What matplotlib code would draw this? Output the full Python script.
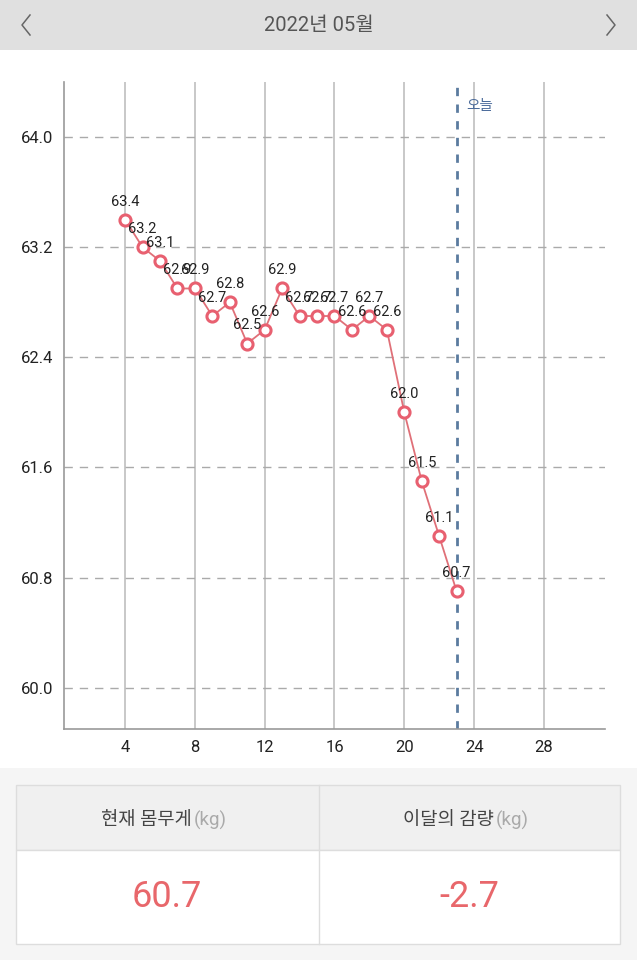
import matplotlib
matplotlib.use("Agg")
import matplotlib.pyplot as plt
from matplotlib.patches import Rectangle
from matplotlib.lines import Line2D

plt.rcParams['font.family'] = ['Roboto', 'Noto Sans CJK KR', 'DejaVu Sans']

# data
days = [4, 5, 6, 7, 8, 9, 10, 11, 12, 13, 14, 15, 16, 17, 18, 19, 20, 21, 22, 23]
weights = [63.4, 63.2, 63.1, 62.9, 62.9, 62.7, 62.8, 62.5, 62.6, 62.9,
           62.7, 62.7, 62.7, 62.6, 62.7, 62.6, 62.0, 61.5, 61.1, 60.7]
x_ticks = [4, 8, 12, 16, 20, 24, 28]
y_ticks = [60.0, 60.8, 61.6, 62.4, 63.2, 64.0]
today = 23
title = "2022년 05월"
current_label = "현재 몸무게"
change_label = "이달의 감량"
current_value = "60.7"
change_value = "-2.7"

W, H = 637, 960
fig = plt.figure(figsize=(W / 100, H / 100), dpi=100)


def fx(px):
    return px / W


def fy(py):
    return 1 - py / H


def rect(x0, y0, x1, y1, **kw):
    fig.patches.append(Rectangle((fx(x0), fy(y1)), fx(x1) - fx(x0), (y1 - y0) / H,
                                 transform=fig.transFigure, **kw))


# header bar
rect(0, 0, W, 50, facecolor='#e0e0e0', edgecolor='none')
fig.text(0.5, fy(25), title, ha='center', va='center', fontsize=14.5, color='#555555')
for cx, d in [(26, 1), (611, -1)]:
    fig.lines.append(Line2D([fx(cx + 4 * d), fx(cx - 4 * d), fx(cx + 4 * d)],
                            [fy(15), fy(25), fy(35)], transform=fig.transFigure,
                            color='#666666', lw=1.1))

# bottom summary area
rect(0, 768, W, H, facecolor='#f5f5f5', edgecolor='none')
rect(16, 785, 620, 850, facecolor='#f0f0f0', edgecolor='#dddddd', lw=1)
rect(16, 850, 620, 944, facecolor='white', edgecolor='#dddddd', lw=1)
fig.lines.append(Line2D([fx(319), fx(319)], [fy(785), fy(944)], transform=fig.transFigure,
                        color='#dddddd', lw=1))
for cx, lab, val in [(167, current_label, current_value), (469, change_label, change_value)]:
    fig.text(fx(cx + 25), fy(820), lab, ha='right', va='center', fontsize=13.5, color='#444444')
    fig.text(fx(cx + 27), fy(820), "(kg)", ha='left', va='center', fontsize=13.5, color='#aaaaaa')
    fig.text(fx(cx), fy(897), val, ha='center', va='center', fontsize=26, color='#e8676b')

# chart
ax = fig.add_axes([fx(64), fy(729), fx(605) - fx(64), (729 - 82) / H])
ax.set_xlim(0.5, 31.5)
ax.set_ylim(59.7, 64.4)
ax.set_xticks(x_ticks)
ax.set_yticks(y_ticks)
ax.set_yticklabels([f"{v:.1f}" for v in y_ticks])
ax.tick_params(length=0, labelsize=12, colors='#222222', pad=8)

for s in ['top', 'right']:
    ax.spines[s].set_visible(False)
for s in ['left', 'bottom']:
    ax.spines[s].set_color('#999999')
    ax.spines[s].set_linewidth(1.2)

for xt in x_ticks:
    ax.axvline(xt, color='#c8c8c8', lw=1.4, zorder=1)
for yt in y_ticks:
    ax.axhline(yt, color='#aaaaaa', lw=1, dashes=(6, 5), zorder=1)

ax.axvline(today, color='#5b7b9f', lw=2, dashes=(3, 3), zorder=2)
ax.annotate("오늘", (today, 64.4), xytext=(7, -22), textcoords='offset points',
            fontsize=10.5, color='#4a6a9a', ha='left', va='bottom')

ax.plot(days, weights, color='#e07078', lw=1.3, marker='o', markersize=8,
        markerfacecolor='white', markeredgecolor='#e86070', markeredgewidth=2.2, zorder=3)
for d, w in zip(days, weights):
    ax.annotate(f"{w:.1f}", (d, w), xytext=(0, 8), textcoords='offset points',
                ha='center', va='bottom', fontsize=10.5, color='#222222', zorder=4)

fig.savefig("out.png", dpi=100)
